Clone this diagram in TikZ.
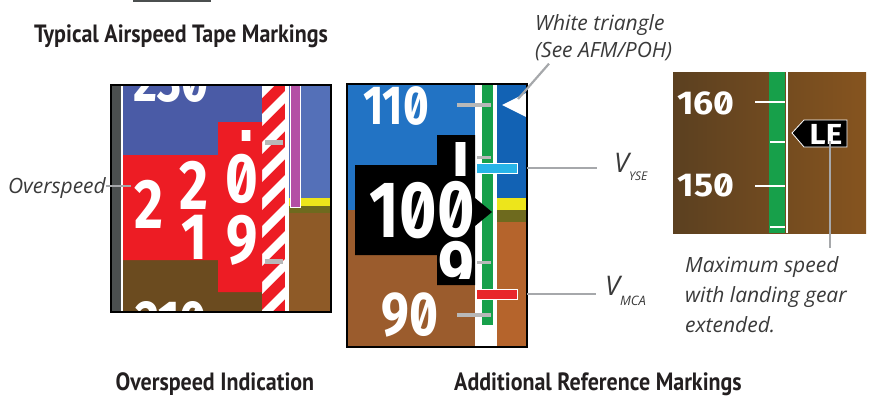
\documentclass[tikz,border=0pt]{standalone}
\usepackage{fontspec}
\setmainfont{Open Sans}
\newfontfamily\headfont[FakeStretch=0.88]{PT Sans}
\newfontfamily\tapefont[FakeStretch=0.8, Numbers={SlashedZero,Proportional}]{Fira Sans}
\newfontfamily\tapewide[FakeStretch=1.08, Numbers={SlashedZero,Proportional}]{Fira Sans}
\usetikzlibrary{positioning}
\definecolor{ink}{HTML}{231F20}
\definecolor{notegray}{HTML}{3A3A3A}
\definecolor{leadgray}{HTML}{A6A8AB}
\definecolor{ovblue}{HTML}{4A5BA6}
\definecolor{ovsky}{HTML}{5470B8}
\definecolor{ovbrown}{HTML}{6B4B1F}
\definecolor{ovground}{HTML}{8E5A27}
\definecolor{ovred}{HTML}{ED1C24}
\definecolor{ovgray}{HTML}{4B4F4F}
\definecolor{trendmag}{HTML}{B44FA5}
\definecolor{yellowbar}{HTML}{EDE51B}
\definecolor{olive}{HTML}{6E6A1E}
\definecolor{skyblue}{HTML}{2273C4}
\definecolor{skyblue2}{HTML}{1262B4}
\definecolor{groundbrown}{HTML}{9B5C2D}
\definecolor{groundbrown2}{HTML}{B5642C}
\definecolor{arcgreen}{HTML}{17A04A}
\definecolor{ysecyan}{HTML}{27B4E8}
\definecolor{mcared}{HTML}{E8262B}
\definecolor{ticklight}{HTML}{B8B8B8}
\definecolor{lebrownL}{HTML}{5B4020}
\definecolor{lebrownR}{HTML}{86541F}

\begin{document}
\begin{tikzpicture}[x=1pt, y=-1pt,
		leader/.style={draw=leadgray, line width=2.2pt},
		note/.style={font=\itshape\fontsize{21}{27}\selectfont, text=notegray, inner sep=0pt, align=left},
		title/.style={font=\headfont\bfseries\fontsize{25}{28}\selectfont, text=ink, inner sep=0pt},
		digit/.style={font=\tapefont\bfseries\fontsize{#1}{#1}\selectfont, text=white, inner sep=0pt},
		drum/.style 2 args={font=\tapefont\bfseries\fontsize{#1}{#2}\selectfont, text=white, inner sep=0pt, align=center},
		bug/.style={draw=white, line width=0.8pt, minimum width=41pt, minimum height=10pt, inner sep=0pt}]
	\useasboundingbox (0,0) rectangle (869,396);
	\draw [line width=1.5pt, ovgray] (133,0.8)--(211,0.8);
	\node [title, anchor=base] (toptitle) at (181,42) {Typical Airspeed Tape Markings};

	% overspeed tape
	\begin{scope}
		\clip (111,85) rectangle (331,312);
		\fill [ovblue] (123,85) rectangle (262,205);
		\fill [ovbrown] (123,205) rectangle (262,312);
		\fill [ovgray] (111,85) rectangle (121,312);
		\fill [white] (121,85) rectangle (123,312);
		\begin{scope}
			\clip (262,85) rectangle (285,312);
			\fill [ovred] (262,85) rectangle (285,312);
			\foreach \y in {58,86,...,340}
				\fill [white] (262,\y)--(285,\y-23)--(285,\y-11)--(262,\y+12)--cycle;
			\fill [ticklight] (265,140) rectangle (283,145);
			\fill [ticklight] (265,259) rectangle (283,264);
		\end{scope}
		\fill [white] (285,85) rectangle (289,312);
		\fill [ovsky] (289,85) rectangle (331,198);
		\fill [yellowbar] (289,198) rectangle (331,206);
		\fill [olive] (289,206) rectangle (331,213);
		\fill [ovground] (289,213) rectangle (331,312);
		\draw [fill=trendmag, draw=white, line width=0.8pt] (290,80) rectangle (300,207);
		\node [digit=58] (ov230) at (171,82) {230};
		\node [digit=58] (ov210) at (171,322) {210};
		\fill [ovred] (123,155)--(218,155)--(218,122)--(262,122)--(262,292)--(218,292)--(218,260)--(123,260)--cycle;
		\node [digit=70] (ovhund) at (149,204) {2};
		\begin{scope}
			\clip (170,160) rectangle (216,258);
			\node [drum={70}{53}] (ovtens) at (194,211.5) {2\\1};
		\end{scope}
		\begin{scope}
			\clip (218,130) rectangle (262,290);
			\node [drum={70}{61}] (ovones) at (242,180) {1\\0\\9};
		\end{scope}
	\end{scope}
	\draw [line width=2.5pt] (111,85) rectangle (331,312);
	\coordinate (ovpt) at (131,186);
	\node [note, anchor=east] (ovtxt) at (106,188) {Overspeed};
	\draw [leader] (ovtxt.east |- ovpt)--(ovpt);

	% reference markings tape
	\begin{scope}
		\clip (347,84) rectangle (527,347);
		\fill [skyblue] (347,84) rectangle (475,210);
		\fill [groundbrown] (347,210) rectangle (475,347);
		\fill [white] (475,84) rectangle (497,347);
		\fill [arcgreen] (482,84) rectangle (493,325);
		\fill [skyblue2] (497,84) rectangle (527,198);
		\fill [yellowbar] (497,198) rectangle (527,210);
		\fill [olive] (497,210) rectangle (527,222);
		\fill [groundbrown2] (497,222) rectangle (527,347);
		\foreach \t in {105,315}
			\draw [ticklight, line width=3.5pt] (457,\t)--(491,\t);
		\foreach \t in {157,262}
			\draw [ticklight, line width=3pt] (477,\t)--(491,\t);
		\node [digit=55] (s110) at (396,106) {110};
		\node [digit=62] (s90) at (410,315) {90};
		\fill [black] (355,165)--(437,165)--(437,135)--(475,135)--(475,198)--(492,212)--(475,226)--(475,285)--(437,285)--(437,255)--(355,255)--cycle;
		\node [digit=80] (s10) at (403,211) {10};
		\begin{scope}
			\clip (437,142) rectangle (475,278);
			\node [drum={80}{60}] (sones) at (456,211) {1\\0\\9};
		\end{scope}
		\node [bug, fill=ysecyan] (ysebug) at (496.5,168) {};
		\node [bug, fill=mcared] (mcabug) at (496.5,294) {};
		\fill [white] (502,105)--(530,91)--(530,119)--cycle;
	\end{scope}
	\draw [line width=2.5pt] (347,84) rectangle (527,347);

	\coordinate (wtpt) at (518,99);
	\node [note, anchor=north west] (wttxt) at (535,14) {White triangle\\(See AFM/POH)};
	\draw [leader] (wtpt)--([xshift=14pt, yshift=-3pt]wttxt.south west);

	\coordinate (ysept) at (527,168);
	\node [note, anchor=base west] (vyse) at (614,172) {{\fontsize{27}{30}\selectfont V}\raisebox{-8pt}{\fontsize{12}{12}\selectfont YSE}};
	\draw [leader, shorten >=17pt] (ysept)--(ysept -| vyse.west);
	\coordinate (mcapt) at (527,294);
	\node [note, anchor=base west] (vmca) at (605,295) {{\fontsize{27}{30}\selectfont V}\raisebox{-10pt}{\fontsize{13}{13}\selectfont MCA}};
	\draw [leader, shorten >=9pt] (mcapt)--(mcapt -| vmca.west);

	% gear extended tape
	\shade [left color=lebrownL, right color=lebrownR] (673,72) rectangle (866,233);
	\fill [arcgreen] (769,72) rectangle (785,233);
	\fill [white] (786,72) rectangle (788,233);
	\foreach \t in {102,186}
		\draw [white, line width=2pt] (755,\t)--(785,\t);
	\foreach \t in {142,227}
		\draw [white, line width=2pt] (770,\t)--(785,\t);
	\node [font=\tapewide\bfseries\fontsize{33}{33}\selectfont, text=white, inner sep=0pt] (t160) at (706,103) {160};
	\node [font=\tapewide\bfseries\fontsize{33}{33}\selectfont, text=white, inner sep=0pt] (t150) at (706,185) {150};
	\draw [fill=black, draw=white, line width=0.8pt] (792,133)--(804,120)--(847,120)--(847,147)--(804,147)--cycle;
	\node [font=\tapewide\bfseries\fontsize{29}{29}\selectfont, text=white, inner sep=0pt] (leflag) at (826,134) {LE};
	\coordinate (lept) at (830,141);
	\node [note, anchor=north west, font=\itshape\fontsize{21}{30}\selectfont] (maxtxt) at (685,256) {Maximum speed\\with landing gear\\extended.};
	\draw [leader, shorten >=8pt] (lept)--(lept |- maxtxt.north);

	\node [title, anchor=base] (ovtitle) at (215,390) {Overspeed Indication};
	\node [title, anchor=base] (reftitle) at (598,390) {Additional Reference Markings};
\end{tikzpicture}
\end{document}
